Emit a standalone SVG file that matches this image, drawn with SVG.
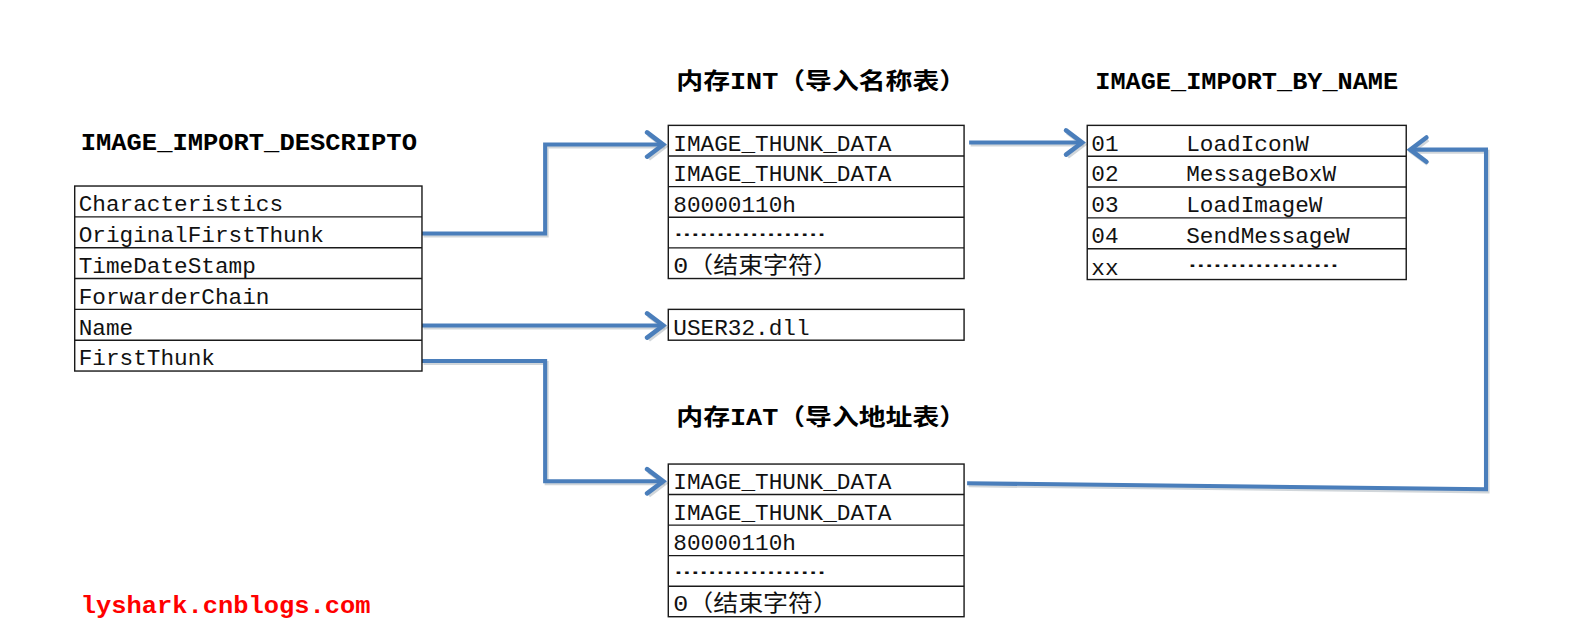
<svg xmlns="http://www.w3.org/2000/svg" width="1582" height="636" viewBox="0 0 1582 636">
<style>
.bg{fill:#ffffff}
.box{fill:#ffffff;stroke:#1a1a1a;stroke-width:1.4}
.sep{stroke:#1a1a1a;stroke-width:1.4}
.t{font-family:"Liberation Mono","Noto Sans CJK SC",monospace;font-size:22.5px;fill:#111111}
.h{font-family:"Liberation Mono","Noto Sans CJK SC",monospace;font-size:23px;font-weight:bold;fill:#000000}
.wm{font-family:"Liberation Mono","Noto Sans CJK SC",monospace;font-size:23px;font-weight:bold;fill:#ff0000}
.c{fill:none;stroke:#4a7ebb;stroke-width:4;stroke-linejoin:miter}
.cs{fill:none;stroke:#9aa3ad;stroke-opacity:0.45;stroke-width:4;stroke-linejoin:miter}
</style>
<defs>
<marker id="ah" markerUnits="userSpaceOnUse" markerWidth="24" markerHeight="30" viewBox="0 0 24 30" refX="20" refY="15" orient="auto">
<path d="M4,3 L20,15 L4,27" fill="none" stroke="#4a7ebb" stroke-width="4.5" stroke-linecap="round" stroke-linejoin="miter"/>
</marker>
<marker id="ahs" markerUnits="userSpaceOnUse" markerWidth="24" markerHeight="30" viewBox="0 0 24 30" refX="20" refY="15" orient="auto">
<path d="M4,3 L20,15 L4,27" fill="none" stroke="#9aa3ad" stroke-opacity="0.45" stroke-width="4.5"/>
</marker>
</defs>
<rect class="bg" x="0" y="0" width="1582" height="636"/>

<g transform="scale(1.0095,1.011)">
<g id="connectors">
<g transform="translate(1.5,2)">
<path class="cs" d="M418,231 H540 V143 H657" marker-end="url(#ahs)"/>
<path class="cs" d="M418,322 H657" marker-end="url(#ahs)"/>
<path class="cs" d="M418,357 H540 V476 H657" marker-end="url(#ahs)"/>
<path class="cs" d="M960,141 H1072" marker-end="url(#ahs)"/>
<path class="cs" d="M958,478 L1472,484 V148 H1397" marker-end="url(#ahs)"/>
</g>
<path id="e-oft" class="c" d="M418,231 H540 V143 H657" marker-end="url(#ah)"/>
<path id="e-name" class="c" d="M418,322 H657" marker-end="url(#ah)"/>
<path id="e-ft" class="c" d="M418,357 H540 V476 H657" marker-end="url(#ah)"/>
<path id="e-int" class="c" d="M960,141 H1072" marker-end="url(#ah)"/>
<path id="e-iat" class="c" d="M958,478 L1472,484 V148 H1397" marker-end="url(#ah)"/>
</g>

<g id="descriptor">
<text class="h" x="80" y="148" textLength="333" lengthAdjust="spacingAndGlyphs">IMAGE_IMPORT_DESCRIPTO</text>
<rect class="box" x="74" y="184" width="344" height="183"/>
<line class="sep" x1="74" y1="214.5" x2="418" y2="214.5"/>
<line class="sep" x1="74" y1="245" x2="418" y2="245"/>
<line class="sep" x1="74" y1="275.5" x2="418" y2="275.5"/>
<line class="sep" x1="74" y1="306" x2="418" y2="306"/>
<line class="sep" x1="74" y1="336.5" x2="418" y2="336.5"/>
<text class="t" x="78" y="209">Characteristics</text>
<text class="t" x="78" y="239.5">OriginalFirstThunk</text>
<text class="t" x="78" y="270">TimeDateStamp</text>
<text class="t" x="78" y="300.5">ForwarderChain</text>
<text class="t" x="78" y="331">Name</text>
<text class="t" x="78" y="361.5">FirstThunk</text>
</g>

<g id="int">
<text class="h" x="670" y="88" font-size="24" textLength="287" lengthAdjust="spacingAndGlyphs">内存INT（导入名称表）</text>
<rect class="box" x="662" y="124" width="293" height="151.5"/>
<line class="sep" x1="662" y1="154.3" x2="955" y2="154.3"/>
<line class="sep" x1="662" y1="184.6" x2="955" y2="184.6"/>
<line class="sep" x1="662" y1="214.9" x2="955" y2="214.9"/>
<line class="sep" x1="662" y1="245.2" x2="955" y2="245.2"/>
<text class="t" x="667" y="149">IMAGE_THUNK_DATA</text>
<text class="t" x="667" y="179.3">IMAGE_THUNK_DATA</text>
<text class="t" x="667" y="209.6">80000110h</text>
<text class="t" x="668" y="233" textLength="150" lengthAdjust="spacingAndGlyphs">………………</text>
<text class="t" x="667" y="270" textLength="163" lengthAdjust="spacingAndGlyphs">0（结束字符）</text>
</g>

<g id="dllname">
<rect class="box" x="662" y="306" width="293" height="30.5"/>
<text class="t" x="667" y="331">USER32.dll</text>
</g>

<g id="iat">
<text class="h" x="670" y="420" font-size="24" textLength="287" lengthAdjust="spacingAndGlyphs">内存IAT（导入地址表）</text>
<rect class="box" x="662" y="459" width="293" height="151"/>
<line class="sep" x1="662" y1="489.2" x2="955" y2="489.2"/>
<line class="sep" x1="662" y1="519.4" x2="955" y2="519.4"/>
<line class="sep" x1="662" y1="549.6" x2="955" y2="549.6"/>
<line class="sep" x1="662" y1="579.8" x2="955" y2="579.8"/>
<text class="t" x="667" y="484">IMAGE_THUNK_DATA</text>
<text class="t" x="667" y="514.2">IMAGE_THUNK_DATA</text>
<text class="t" x="667" y="544.4">80000110h</text>
<text class="t" x="668" y="567.5" textLength="150" lengthAdjust="spacingAndGlyphs">………………</text>
<text class="t" x="667" y="604.8" textLength="163" lengthAdjust="spacingAndGlyphs">0（结束字符）</text>
</g>

<g id="by-name">
<text class="h" x="1085" y="88" textLength="300" lengthAdjust="spacingAndGlyphs">IMAGE_IMPORT_BY_NAME</text>
<rect class="box" x="1077" y="124" width="316" height="152.5"/>
<line class="sep" x1="1077" y1="154.5" x2="1393" y2="154.5"/>
<line class="sep" x1="1077" y1="185" x2="1393" y2="185"/>
<line class="sep" x1="1077" y1="215.5" x2="1393" y2="215.5"/>
<line class="sep" x1="1077" y1="246" x2="1393" y2="246"/>
<text class="t" x="1081" y="149">01</text>
<text class="t" x="1175" y="149">LoadIconW</text>
<text class="t" x="1081" y="179.5">02</text>
<text class="t" x="1175" y="179.5">MessageBoxW</text>
<text class="t" x="1081" y="210">03</text>
<text class="t" x="1175" y="210">LoadImageW</text>
<text class="t" x="1081" y="240.5">04</text>
<text class="t" x="1175" y="240.5">SendMessageW</text>
<text class="t" x="1081" y="272" font-size="19">xx</text>
<text class="t" x="1177" y="264" textLength="149" lengthAdjust="spacingAndGlyphs">………………</text>
</g>

<g id="watermark">
<text class="wm" x="80" y="606" textLength="287" lengthAdjust="spacingAndGlyphs">lyshark.cnblogs.com</text>
</g>
</g>
</svg>
